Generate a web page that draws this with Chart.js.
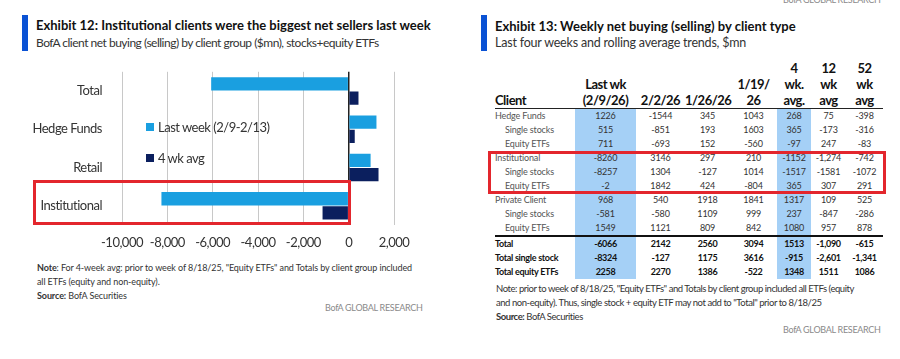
<!DOCTYPE html>
<html>
<head>
<meta charset="utf-8">
<script src="https://cdn.jsdelivr.net/npm/chart.js@4"></script>
<style>
  body { margin: 0; background: #fff; width: 900px; height: 359px; overflow: hidden; position: relative;
         font-family: 'Lato', sans-serif; color: #222; }
  .abs { position: absolute; white-space: nowrap; }
  .bar { position: absolute; background: #0a52d4; width: 6px; height: 36px; top: 15px; }
  .title { font-weight: bold; font-size: 13px; color: #111; }
  .sub { font-size: 12px; letter-spacing: -0.2px; color: #333; }
  .note { font-size: 9px; letter-spacing: -0.1px; color: #333; line-height: 14px; }
  .brand { font-size: 9px; letter-spacing: -0.3px; color: #8a8a8a; }
  .redbox { position: absolute; border: 3px solid #e3262d; box-sizing: border-box; pointer-events: none; }
  .leg { position: absolute; font-size: 13px; letter-spacing: -0.5px; color: #333; white-space: nowrap; line-height: 14px; }
  .leg i { display: inline-block; width: 8px; height: 8px; margin-right: 4px; vertical-align: 1px; }
  #tbl { position: absolute; left: 495px; top: 60px; border-collapse: collapse; table-layout: fixed; width: 388px; }
  #tbl th { font-weight: bold; font-size: 13px; letter-spacing: -0.5px; line-height: 16px; vertical-align: bottom;
            text-align: center; padding: 0; border-bottom: 1px solid #222; color: #111; white-space: nowrap; }
  #tbl th:first-child { text-align: left; }
  #tbl td { font-size: 9px; letter-spacing: -0.15px; height: 14px; line-height: 14px; padding: 0; text-align: center;
            color: #333; white-space: nowrap; }
  #tbl td:first-child { text-align: left; color: #555; }
  #tbl td.ind { padding-left: 10px; }
  #tbl td.hl { background: #a5d0f6; }
  #tbl tr.tot td { font-weight: bold; color: #111; font-size: 9px; letter-spacing: -0.3px; }
  #tbl tr.first-tot td { border-top: 2px solid #111; }
  canvas { display: block; }
</style>
</head>
<body>
<!-- left: exhibit 12 -->
<div class="bar" style="left:22px"></div>
<div class="abs title" style="left:36px;top:17px">Exhibit 12: Institutional clients were the biggest net sellers last week</div>
<div class="abs sub" style="left:36px;top:35px;letter-spacing:-0.5px">BofA client net buying (selling) by client group ($mn), stocks+equity ETFs</div>
<div style="position:absolute;left:0;top:52px;width:440px;height:203px"><canvas id="flows"></canvas></div>
<div class="leg" style="left:146px;top:120px"><i style="background:#1a9fe0"></i>Last week (2/9-2/13)</div>
<div class="leg" style="left:146px;top:151px"><i style="background:#0b1f5e"></i>4 wk avg</div>
<div class="redbox" style="left:33px;top:180px;width:318px;height:45px"></div>
<div class="abs note" style="left:37px;top:261px"><b>Note</b>: For 4-week avg: prior to week of 8/18/25, "Equity ETFs" and Totals by client group included<br>all ETFs (equity and non-equity).<br><b>Source:</b> BofA Securities</div>
<div class="abs brand" style="left:325px;top:302px">BofA GLOBAL RESEARCH</div>

<!-- right: exhibit 13 -->
<div class="abs brand" style="left:783px;top:-6px">BofA GLOBAL RESEARCH</div>
<div class="bar" style="left:481px"></div>
<div class="abs title" style="left:495px;top:18px">Exhibit 13: Weekly net buying (selling) by client type</div>
<div class="abs sub" style="left:495px;top:35px;font-size:12.5px">Last four weeks and rolling average trends, $mn</div>
<table id="tbl"></table>
<div class="redbox" style="left:488px;top:151px;width:398px;height:43px"></div>
<div class="abs note" style="left:496px;top:282px;font-size:9.5px;letter-spacing:-0.45px">Note: prior to week of 8/18/25, "Equity ETFs" and Totals by client group included all ETFs (equity<br>and non-equity). Thus, single stock + equity ETF may not add to "Total" prior to 8/18/25<br><b>Source:</b> BofA Securities</div>
<div class="abs brand" style="left:783px;top:324px">BofA GLOBAL RESEARCH</div>

<script>
// exhibit 12 data ($mn)
const categories = ["Total", "Hedge Funds", "Retail", "Institutional"];
const lastWeek = [-6066, 1226, 968, -8260];
const fourWeekAvg = [433, 268, 1317, -1152];
const xMin = -10000;
const xMax = 2000;
const xStep = 2000;

// exhibit 13 table
const headers = ["Client", "Last wk<br>(2/9/26)", "2/2/26", "1/26/26", "1/19/<br>26", "4<br>wk.<br>avg.", "12<br>wk<br>avg", "52<br>wk<br>avg"];
const rowLabels = ["Hedge Funds", "Single stocks", "Equity ETFs", "Institutional", "Single stocks", "Equity ETFs",
  "Private Client", "Single stocks", "Equity ETFs", "Total", "Total single stock", "Total equity ETFs"];
const lastWk = ["1226", "515", "711", "-8260", "-8257", "-2", "968", "-581", "1549", "-6066", "-8324", "2258"];
const wk0202 = ["-1544", "-851", "-693", "3146", "1304", "1842", "540", "-580", "1121", "2142", "-127", "2270"];
const wk0126 = ["345", "193", "152", "297", "-127", "424", "1918", "1109", "809", "2560", "1175", "1386"];
const wk0119 = ["1043", "1603", "-560", "210", "1014", "-804", "1841", "999", "842", "3094", "3616", "-522"];
const avg4 = ["268", "365", "-97", "-1152", "-1517", "365", "1317", "237", "1080", "1513", "-915", "1348"];
const avg12 = ["75", "-173", "247", "-1,274", "-1581", "307", "109", "-847", "957", "-1,090", "-2,601", "1511"];
const avg52 = ["-398", "-316", "-83", "-742", "-1072", "291", "525", "-286", "878", "-615", "-1,341", "1086"];

const colWidths = [80, 61, 49, 45, 47, 34, 35, 37];
const highlightCols = [1, 5];

const tbl = document.getElementById("tbl");
const cg = document.createElement("colgroup");
colWidths.forEach((w) => {
  const c = document.createElement("col");
  c.style.width = w + "px";
  cg.appendChild(c);
});
tbl.appendChild(cg);

const hr = document.createElement("tr");
headers.forEach((h) => {
  const th = document.createElement("th");
  th.innerHTML = h;
  hr.appendChild(th);
});
tbl.appendChild(hr);

const columns = [lastWk, wk0202, wk0126, wk0119, avg4, avg12, avg52];
rowLabels.forEach((label, i) => {
  const tr = document.createElement("tr");
  if (i >= 9) tr.className = "tot";
  if (i === 9) tr.className = "tot first-tot";
  const td = document.createElement("td");
  td.textContent = label;
  if (i < 9 && i % 3 !== 0) td.className = "ind";
  tr.appendChild(td);
  columns.forEach((col, j) => {
    const cell = document.createElement("td");
    cell.textContent = col[i];
    if (highlightCols.includes(j + 1)) cell.className = "hl";
    tr.appendChild(cell);
  });
  tbl.appendChild(tr);
});

Chart.defaults.font.family = "'Lato', sans-serif";

// tighter text, the original font is a narrow one
const narrowText = {
  id: "narrowText",
  beforeUpdate: (chart) => { chart.ctx.letterSpacing = "-0.5px"; },
  beforeDraw: (chart) => { chart.ctx.letterSpacing = "-0.5px"; },
};

new Chart(document.getElementById("flows").getContext("2d"), {
  type: "bar",
  data: {
    labels: categories,
    datasets: [
      { label: "Last week (2/9-2/13)", data: lastWeek, backgroundColor: "#1a9fe0" },
      { label: "4 wk avg", data: fourWeekAvg, backgroundColor: "#0b1f5e" },
    ],
  },
  plugins: [narrowText],
  options: {
    indexAxis: "y",
    responsive: true,
    maintainAspectRatio: false,
    animation: false,
    categoryPercentage: 0.74,
    barPercentage: 0.94,
    layout: { padding: { top: 8, right: 46, left: 0, bottom: 0 } },
    plugins: { legend: { display: false }, tooltip: { enabled: false } },
    scales: {
      x: {
        min: xMin,
        max: xMax,
        afterFit: (s) => { s.height = 30; },
        ticks: {
          stepSize: xStep,
          padding: 10,
          maxRotation: 0,
          minRotation: 0,
          autoSkip: false,
          color: "#333",
          font: { size: 13 },
          callback: (v) => v.toLocaleString("en-US"),
        },
        grid: {
          drawTicks: false,
          color: (ctx) => (ctx.tick && ctx.tick.value === 0 ? "#222" : "#c8c8c8"),
          lineWidth: (ctx) => (ctx.tick && ctx.tick.value === 0 ? 1.5 : 1),
        },
        border: { display: false },
      },
      y: {
        afterFit: (s) => { s.width = 122; },
        ticks: { padding: 12, color: "#333", font: { size: 13 } },
        grid: { display: false },
        border: { display: false },
      },
    },
  },
});
</script>
</body>
</html>
